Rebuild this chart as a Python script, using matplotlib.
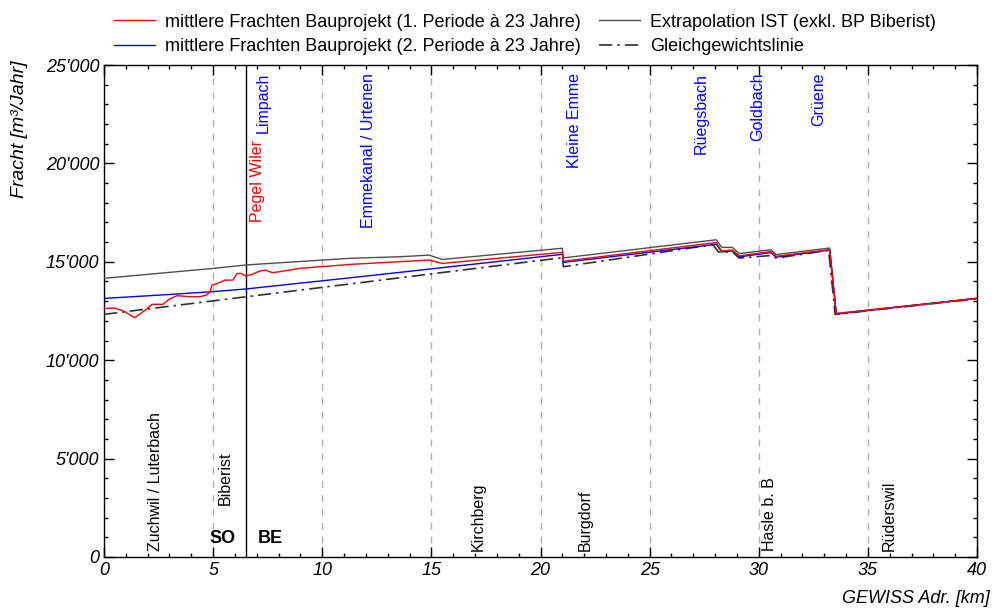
import numpy as np
import matplotlib
matplotlib.use("Agg")
import matplotlib.pyplot as plt
from matplotlib.ticker import MultipleLocator, FuncFormatter

plt.rcParams['font.family'] = ['Liberation Sans', 'DejaVu Sans']

# mittlere Frachten Bauprojekt (1. Periode)
x_p1 = [0, 0.5, 0.9, 1.4, 1.9, 2.2, 2.7, 3.0, 3.35, 3.9, 4.4, 4.7, 4.86, 4.95,
        5.2, 5.55, 5.9, 6.1, 6.3, 6.46, 6.7, 7.15, 7.4, 7.7, 8.06, 9.0, 11.3,
        13.6, 14.9, 15.5, 21.0, 21.05, 28.05, 28.3, 28.8, 29.1, 30.55, 30.8,
        33.25, 33.55, 40]
y_p1 = [12630, 12650, 12500, 12160, 12550, 12840, 12840, 13110, 13280, 13230,
        13230, 13310, 13480, 13820, 13900, 14070, 14070, 14410, 14410, 14280,
        14330, 14530, 14580, 14450, 14500, 14670, 14870, 15010, 15090, 14920,
        15480, 15030, 15980, 15550, 15600, 15300, 15520, 15280, 15620, 12360,
        13140]

# mittlere Frachten Bauprojekt (2. Periode)
x_p2 = [0, 1.5, 3.0, 3.4, 4.95, 6.5, 11.3, 13.6, 21.0, 21.05, 28.05, 28.3,
        28.8, 29.1, 30.55, 30.8, 33.25, 33.55, 40]
y_p2 = [13140, 13240, 13340, 13370, 13480, 13620, 14190, 14470, 15380, 14970,
        15890, 15500, 15550, 15250, 15470, 15240, 15600, 12340, 13150]

# Extrapolation IST
x_ist = [0, 4.95, 6.5, 11.3, 13.6, 14.9, 15.5, 21.0, 21.05, 28.05, 28.3, 28.8,
         29.1, 30.55, 30.8, 33.25, 33.55, 40]
y_ist = [14160, 14660, 14840, 15180, 15260, 15340, 15120, 15690, 15200, 16120,
         15740, 15730, 15420, 15610, 15370, 15700, 12380, 13140]

# Gleichgewichtslinie
x_gg = [0, 21.0, 21.05, 27.9, 28.15, 28.8, 29.1, 30.55, 30.8, 33.2, 33.5, 40]
y_gg = [12330, 15210, 14750, 15870, 15500, 15500, 15190, 15320, 15190, 15580,
        12330, 13120]

# Zufluesse (oben, blau) und Ortschaften (unten, schwarz)
zufluss_names = ["Limpach", "Emmekanal / Urtenen", "Kleine Emme", "Rüegsbach",
                 "Goldbach", "Grüene"]
zufluss_km = [7.3, 12.1, 21.58, 27.37, 29.97, 32.77]
ort_names = ["Zuchwil / Luterbach", "Biberist", "Kirchberg", "Burgdorf",
             "Hasle b. B", "Rüderswil"]
ort_km = [2.34, 5.54, 17.14, 22.06, 30.5, 35.97]
ort_y = [300, 2650, 300, 300, 300, 300]
pegel_km = 7.05
grenze_km = 6.5

fig = plt.figure(figsize=(10.04, 6.10), dpi=100)
ax = fig.add_axes([0.1036, 0.0869, 0.8695, 0.8065])

for xv in range(5, 40, 5):
    ax.axvline(xv, color='#b0b0b0', lw=1, ls=(0, (5, 5)), zorder=1)
ax.axvline(grenze_km, color='black', lw=1, zorder=2)

ax.plot(x_p1, y_p1, color='red', lw=1, label='mittlere Frachten Bauprojekt (1. Periode à 23 Jahre)', zorder=5)
ax.plot(x_p2, y_p2, color='blue', lw=1, label='mittlere Frachten Bauprojekt (2. Periode à 23 Jahre)', zorder=4)
ax.plot(x_ist, y_ist, color='#505050', lw=1, label='Extrapolation IST (exkl. BP Biberist)', zorder=3)
ax.plot(x_gg, y_gg, color='#303030', lw=1.2, ls=(0, (8, 3, 1.5, 3)), label='Gleichgewichtslinie', zorder=3)

for name, km in zip(zufluss_names, zufluss_km):
    ax.text(km, 24600, name, rotation=90, ha='center', va='top', color='blue', fontsize=11.5)
ax.text(pegel_km, 21200, "Pegel Wiler", rotation=90, ha='center', va='top', color='red', fontsize=11.5)
for name, km, yv in zip(ort_names, ort_km, ort_y):
    ax.text(km, yv, name, rotation=90, ha='center', va='bottom', color='black', fontsize=11.5)
ax.text(5.43, 950, "SO", ha='center', va='center', fontsize=13, fontweight='bold')
ax.text(7.63, 950, "BE", ha='center', va='center', fontsize=13, fontweight='bold')

ax.set_xlim(0, 40)
ax.set_ylim(0, 25000)
ax.xaxis.set_major_locator(MultipleLocator(5))
ax.xaxis.set_minor_locator(MultipleLocator(1))
ax.yaxis.set_major_locator(MultipleLocator(5000))
ax.yaxis.set_minor_locator(MultipleLocator(1000))
ax.yaxis.set_major_formatter(FuncFormatter(lambda v, p: "0" if v == 0 else f"{int(v):,}".replace(",", "'")))
ax.tick_params(which='both', direction='in', top=True, right=True, labelsize=13)
ax.tick_params(which='major', length=7, width=1)
ax.tick_params(which='minor', length=3, width=1)
for lab in ax.get_xticklabels() + ax.get_yticklabels():
    lab.set_fontstyle('italic')
for sp in ax.spines.values():
    sp.set_linewidth(1)

ax.set_ylabel("Fracht [m³/Jahr]", fontsize=14, fontstyle='italic')
ax.yaxis.set_label_coords(-0.087, 0.87)
fig.text(0.986, 0.019, "GEWISS Adr. [km]", ha='right', va='center', fontsize=13, fontstyle='italic')

fig.legend(loc='upper left', bbox_to_anchor=(0.097, 1.004), ncol=2, frameon=False,
           fontsize=13, handlelength=2.3, columnspacing=1.0, labelspacing=0.4,
           handletextpad=0.55)

fig.savefig("out.png", dpi=100)
